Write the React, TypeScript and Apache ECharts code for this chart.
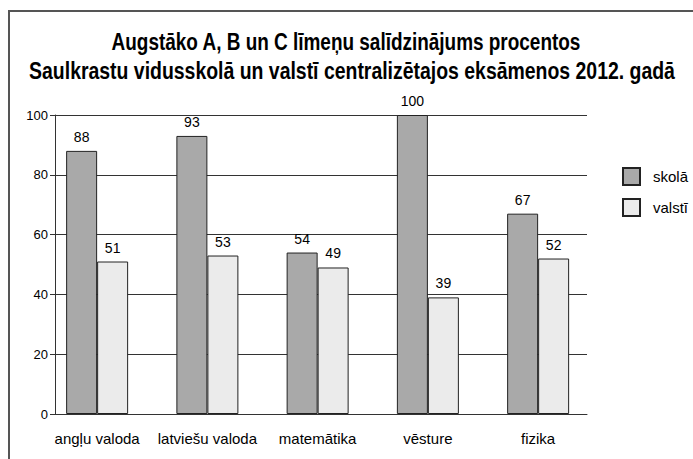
import React, { useEffect, useRef } from "react";
import * as echarts from "echarts";

const titleLines = [
  "Augstāko A, B un C līmeņu salīdzinājums procentos",
  "Saulkrastu vidusskolā un valstī centralizētajos eksāmenos 2012. gadā",
];
const categories = ["angļu valoda", "latviešu valoda", "matemātika", "vēsture", "fizika"];
const skolaValues = [88, 93, 54, 100, 67];
const valstiValues = [51, 53, 49, 39, 52];
const seriesNames = ["skolā", "valstī"];

const ARIAL = "'Liberation Sans', Arial, sans-serif";

export default function App() {
  const ref = useRef<HTMLDivElement>(null);
  useEffect(() => {
    if (!ref.current) return;
    const chart = echarts.init(ref.current, undefined, { renderer: "svg" });
    const labelStyle = {
      show: true,
      position: "top" as const,
      distance: 7,
      fontFamily: ARIAL,
      fontSize: 14,
      color: "#000",
    };
    const titleStyle = {
      fill: "#000",
      fontFamily: ARIAL,
      fontWeight: "bold",
      fontSize: 24,
      align: "center",
      verticalAlign: "top",
    };
    chart.setOption({
      animation: false,
      backgroundColor: "#fff",
      legend: {
        orient: "vertical",
        left: 617,
        top: 162,
        itemWidth: 17,
        itemHeight: 17,
        itemGap: 12,
        icon: "rect",
        data: seriesNames,
        textStyle: {
          fontFamily: ARIAL,
          fontSize: 15,
          color: "#000",
          padding: [0, 0, 0, 8],
        },
      },
      graphic: [
        {
          type: "polyline",
          shape: { points: [[9, 459], [9, 11], [693, 11]] },
          style: { stroke: "#555", lineWidth: 2, fill: "none" },
          silent: true,
        },
        {
          type: "text",
          x: 346,
          y: 30,
          scaleX: 0.79,
          style: { ...titleStyle, text: titleLines[0] },
        },
        {
          type: "text",
          x: 352,
          y: 59,
          scaleX: 0.81,
          style: { ...titleStyle, text: titleLines[1] },
        },
      ],
      grid: [
        { left: 55, top: 115, width: 532, height: 299 },
        { left: 42, top: 115, width: 551.25, height: 299 },
      ],
      xAxis: [
        {
          gridIndex: 0,
          type: "value",
          min: 0,
          max: 1,
          axisLine: { show: true, lineStyle: { color: "#333", width: 1 } },
          axisTick: { show: false },
          axisLabel: { show: false },
          splitLine: { show: false },
        },
        {
          gridIndex: 1,
          type: "category",
          data: categories,
          axisLine: { show: false },
          axisTick: { show: false },
          axisLabel: {
            interval: 0,
            fontFamily: ARIAL,
            fontSize: 15,
            color: "#000",
            margin: 17,
          },
        },
      ],
      yAxis: [
        {
          gridIndex: 0,
          type: "value",
          min: 0,
          max: 100,
          interval: 20,
          axisLine: { show: true, lineStyle: { color: "#333", width: 1 } },
          axisTick: { show: true, length: 5, lineStyle: { color: "#333" } },
          axisLabel: { fontFamily: ARIAL, fontSize: 13, color: "#000", margin: 7 },
          splitLine: { show: true, lineStyle: { color: "#333", width: 1 } },
        },
        {
          gridIndex: 1,
          type: "value",
          min: 0,
          max: 100,
          show: false,
        },
      ],
      series: [
        {
          name: seriesNames[0],
          type: "bar",
          xAxisIndex: 1,
          yAxisIndex: 1,
          data: skolaValues,
          barWidth: 31,
          barGap: "0%",
          itemStyle: { color: "#a9a9a9", borderColor: "#222", borderWidth: 1 },
          label: labelStyle,
        },
        {
          name: seriesNames[1],
          type: "bar",
          xAxisIndex: 1,
          yAxisIndex: 1,
          data: valstiValues,
          barWidth: 31,
          barGap: "0%",
          itemStyle: { color: "#ebebeb", borderColor: "#222", borderWidth: 1 },
          label: labelStyle,
        },
      ],
    });
    return () => chart.dispose();
  }, []);
  return (
    <div
      ref={ref}
      style={{ position: "fixed", left: 0, top: 0, width: 693, height: 459 }}
    />
  );
}
